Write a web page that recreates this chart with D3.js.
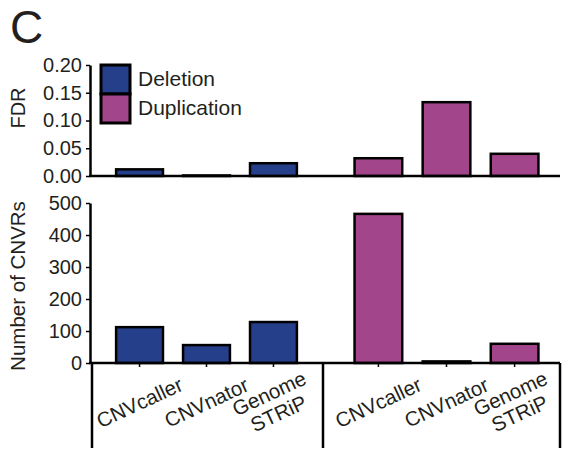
<!DOCTYPE html>
<html>
  <head>
    <script src="https://d3js.org/d3.v7.min.js"></script>
    <style>
      body { margin: 0; background: #fff; }
      text { font-family: Arial, "Liberation Sans", sans-serif; fill: #231f20; }
    </style>
  </head>
  <body>
    <script>

      // methods and values
      var methods = ["CNVcaller", "CNVnator", "Genome STRiP"];
      var types = ["Deletion", "Duplication"];
      var fdrDeletion = [0.012, 0.001, 0.023];
      var fdrDuplication = [0.032, 0.133, 0.040];
      var cnvrDeletion = [112, 56, 128];
      var cnvrDuplication = [466, 5, 60];
      var fdrTicks = [0, 0.05, 0.10, 0.15, 0.20];
      var cnvrTicks = [0, 100, 200, 300, 400, 500];

      var colors = {Deletion: "#263f8a", Duplication: "#a3458b"};

      var w = 567, h = 453;

      var svg = d3.select("body")
        .append("svg")
        .attr("width", w)
        .attr("height", h);

      // panel letter
      svg.append("text")
        .attr("x", 10)
        .attr("y", 43)
        .style("font-size", "46px")
        .text("C");

      // one band scale per group
      var xDel = d3.scaleBand()
        .domain(methods)
        .range([90, 323])
        .paddingInner(0.3)
        .paddingOuter(0.39);

      var xDup = d3.scaleBand()
        .domain(methods)
        .range([328, 565])
        .paddingInner(0.3)
        .paddingOuter(0.39);

      var yFdr = d3.scaleLinear()
        .domain([0, 0.2])
        .range([176, 65]);

      var yCnvr = d3.scaleLinear()
        .domain([0, 500])
        .range([363, 203]);

      function rows(vals, type, xs) {
        return vals.map(function(v, i) {
          return {method: methods[i], value: v, type: type, x: xs};
        });
      }

      function drawPanel(yScale, del, dup, ticks, fmt) {
        var g = svg.append("g");
        var data = rows(del, "Deletion", xDel).concat(rows(dup, "Duplication", xDup));

        g.selectAll("rect")
          .data(data)
          .enter()
          .append("rect")
          .attr("x", function(d) { return d.x(d.method); })
          .attr("width", function(d) { return d.x.bandwidth(); })
          .attr("y", function(d) { return yScale(d.value); })
          .attr("height", function(d) { return yScale(0) - yScale(d.value); })
          .attr("fill", function(d) { return colors[d.type]; })
          .attr("stroke", "#000")
          .attr("stroke-width", 2.5);

        var yAxis = d3.axisLeft(yScale)
          .tickValues(ticks)
          .tickFormat(fmt)
          .tickSize(4)
          .tickSizeOuter(0)
          .tickPadding(4);

        var ax = g.append("g")
          .attr("transform", "translate(90,0)")
          .call(yAxis);
        ax.select(".domain").attr("stroke", "#000").attr("stroke-width", 2.5);
        ax.selectAll(".tick line").attr("stroke", "#000").attr("stroke-width", 1.5);
        ax.selectAll(".tick text")
          .style("font-size", "20px")
          .attr("fill", "#231f20");

        // baseline
        g.append("line")
          .attr("x1", 89)
          .attr("x2", 560)
          .attr("y1", yScale(0))
          .attr("y2", yScale(0))
          .attr("stroke", "#000")
          .attr("stroke-width", 2.5);
        return g;
      }

      drawPanel(yFdr, fdrDeletion, fdrDuplication, fdrTicks, d3.format(".2f"));
      drawPanel(yCnvr, cnvrDeletion, cnvrDuplication, cnvrTicks, d3.format("d"));

      // axis titles
      svg.append("text")
        .attr("transform", "translate(25,108) rotate(-90)")
        .attr("text-anchor", "middle")
        .style("font-size", "20px")
        .text("FDR");

      svg.append("text")
        .attr("transform", "translate(25,286) rotate(-90)")
        .attr("text-anchor", "middle")
        .style("font-size", "20.5px")
        .text("Number of CNVRs");

      // bottom category axes
      [xDel, xDup].forEach(function(xs) {
        var xa = svg.append("g")
          .attr("transform", "translate(0," + yCnvr(0) + ")")
          .call(d3.axisBottom(xs).tickSize(4).tickSizeOuter(0).tickFormat(""));
        xa.select(".domain").remove();
        xa.selectAll(".tick line").attr("stroke", "#000").attr("stroke-width", 1.5);

        var lab = svg.append("g").selectAll("g")
          .data(methods)
          .enter()
          .append("g")
          .attr("transform", function(d) {
            return "translate(" + (xs(d) + xs.bandwidth() / 2 + 3) + "," + (yCnvr(0) + 46) + ") rotate(-25)";
          });

        lab.append("text")
          .attr("text-anchor", "middle")
          .style("font-size", "20.5px")
          .each(function(d) {
            var parts = d.split(" ");
            var t = d3.select(this);
            if (parts.length === 1) {
              t.append("tspan").attr("x", 0).attr("y", 0).text(d);
            } else {
              t.append("tspan").attr("x", 0).attr("y", -10).text(parts[0]);
              t.append("tspan").attr("x", 0).attr("y", 12).text(parts[1]);
            }
          });
      });

      // group separators
      [92, 323, 560].forEach(function(x) {
        svg.append("line")
          .attr("x1", x)
          .attr("x2", x)
          .attr("y1", yCnvr(0))
          .attr("y2", 448)
          .attr("stroke", "#000")
          .attr("stroke-width", 2.5);
      });

      // legend
      var legend = svg.append("g")
        .attr("class", "legend")
        .attr("transform", "translate(101,65)");

      var item = legend.selectAll("g")
        .data(types)
        .enter()
        .append("g")
        .attr("transform", function(d, i) { return "translate(0," + (i * 29) + ")"; });

      item.append("rect")
        .attr("width", 29)
        .attr("height", 29)
        .attr("fill", function(d) { return colors[d]; })
        .attr("stroke", "#000")
        .attr("stroke-width", 3);

      item.append("text")
        .attr("x", 37)
        .attr("y", 21)
        .style("font-size", "21px")
        .text(function(d) { return d; });

    </script>
  </body>
</html>
